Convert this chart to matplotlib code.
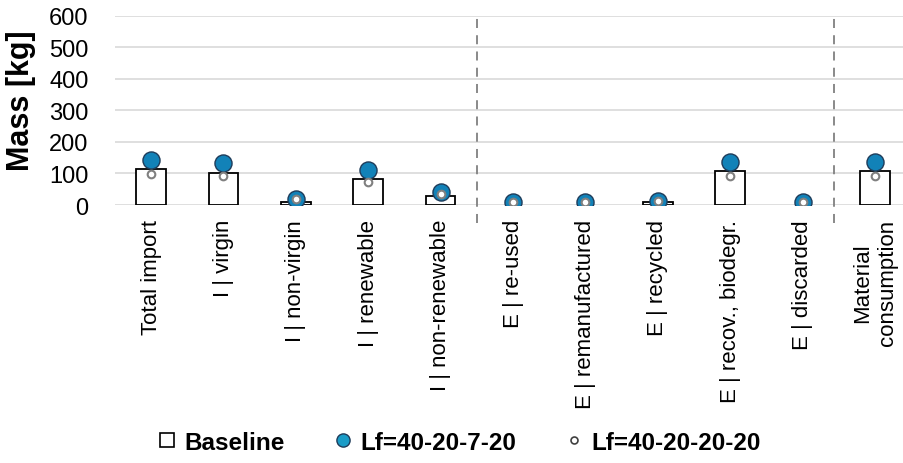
import numpy as np
import matplotlib.pyplot as plt
from matplotlib.lines import Line2D

plt.rcParams['font.family'] = ['Liberation Sans', 'DejaVu Sans']

# chart data
categories = ['Total import', 'I | virgin', 'I | non-virgin', 'I | renewable',
              'I | non-renewable', 'E | re-used', 'E | remanufactured',
              'E | recycled', 'E | recov., biodegr.', 'E | discarded',
              'Material\nconsumption']
baseline = [113, 101, 10, 84, 30, 0, 0, 8, 107, 0, 107]
lf_40_20_7_20 = [143, 132, 20, 112, 40, 10, 10, 14, 137, 10, 137]
lf_40_20_20_20 = [98, 93, 20, 74, 35, 10, 10, 14, 93, 10, 93]
separators = [4.5, 9.43]

x = np.arange(len(categories))

fig = plt.figure(figsize=(9.04, 4.64), dpi=100)
ax = fig.add_axes([0.127, 0.556, 0.881, 0.408])

# zero-valued bars are not drawn at all (no flat outline)
bar_h = np.where(np.array(baseline) > 0, baseline, np.nan)
ax.bar(x, bar_h, width=0.41, facecolor='white', edgecolor='black',
       linewidth=1.3, zorder=2)
ax.plot(x, lf_40_20_7_20, 'o', ms=12.3, mfc='#1282b8', mec='#1f3c5a',
        mew=1.0, zorder=3)
ax.plot(x, lf_40_20_20_20, 'o', ms=5.5, mfc='white', mec='#808080',
        mew=1.5, zorder=4)

for s in separators:
    ax.plot([s, s], [-57, 600], ls=(0, (5, 4)), color='#808080', lw=1.3,
            clip_on=False, zorder=1)

ax.set_xlim(-0.5, len(categories) - 0.5)
ax.set_ylim(0, 600)
ax.set_yticks(range(0, 601, 100))
ax.yaxis.grid(True, color='#d9d9d9', lw=1.2)
ax.set_axisbelow(True)
for sp in ax.spines.values():
    sp.set_visible(False)
ax.tick_params(axis='y', length=0, pad=19, labelsize=17)
ax.tick_params(axis='x', length=0, pad=10, labelsize=16)
ax.set_xticks(x)
ax.set_xticklabels(categories, rotation=90, va='top', ha='center',
                   multialignment='center')
ax.set_ylabel('Mass [kg]', fontsize=22, fontweight='bold')
ax.yaxis.set_label_coords(-0.099, 0.555)

handles = [
    Line2D([], [], ls='none', marker='s', ms=9.5, mfc='white', mec='black', mew=1.2),
    Line2D([], [], ls='none', marker='o', ms=9.5, mfc='#1a9cc7', mec='#1f3c5a', mew=1.0),
    Line2D([], [], ls='none', marker='o', ms=5, mfc='white', mec='#404040', mew=1.2),
]
fig.legend(handles, ['Baseline', 'Lf=40-20-7-20', 'Lf=40-20-20-20'],
           loc='center', bbox_to_anchor=(0.508, 0.045), ncol=3, frameon=False,
           handlelength=0.8, handletextpad=0.3, columnspacing=2.0,
           prop={'size': 17.5, 'weight': 'bold'})

fig.savefig('out.png', dpi=100)
